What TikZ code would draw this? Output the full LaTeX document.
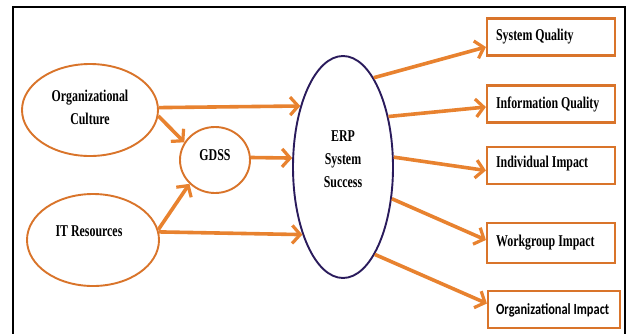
\documentclass[tikz,border=0pt]{standalone}
\usepackage{fontspec}
\usetikzlibrary{arrows.meta,shapes.geometric}
\newfontfamily\lblserif{Liberation Serif}[FakeStretch=0.72]
\newfontfamily\lblsans{Carlito}[FakeStretch=0.8]
\definecolor{rustorange}{HTML}{D9742A}
\definecolor{arroworange}{HTML}{E8822F}
\definecolor{erpnavy}{HTML}{2A1B5C}
\tikzset{
  lbl/.style={font={\lblserif\bfseries\fontsize{16.5}{23}\selectfont}, align=center, inner sep=0pt},
  boxlbl/.style={font={\lblserif\bfseries\fontsize{16.5}{18}\selectfont}, anchor=west, inner sep=0pt},
  oval/.style={ellipse, draw=rustorange, line width=1.9pt, fill=white, inner sep=0pt},
  outbox/.style={rectangle, draw=rustorange, line width=2.2pt, fill=white, minimum width=128pt,
    minimum height=37pt},
  flow/.style={draw=arroworange, line width=3.6pt, -{Straight Barb[length=8pt,width=18pt,line width=3.2pt]}}
}
\begin{document}
\begin{tikzpicture}[x=1pt,y=-1pt]
\useasboundingbox (0,0) rectangle (629,333);
\fill[white] (0,0) rectangle (629,333);
% frame
\draw[black, line width=2pt] (13,345) -- (13,7) -- (625,7) -- (625,345);

% antecedents
\node[oval, minimum width=136pt, minimum height=92pt] (oc) at (90,110) {};
\node[lbl] (octxt) at (90,107) {Organizational\\Culture};
\node[oval, minimum width=132pt, minimum height=92pt] (it) at (93,240) {};
\node[lbl] (ittxt) at (89,231) {IT Resources};
\node[oval, minimum width=70pt, minimum height=66pt] (gdss) at (215,160) {};
\node[lbl] (gdsstxt) at (215,155) {GDSS};

% central construct
\node[ellipse, draw=erpnavy, line width=1.9pt, fill=white, minimum width=100pt, minimum height=222pt, inner sep=0pt] (erp) at (343,167) {};
\node[lbl] (erptxt) at (343,159) {ERP\\System\\Success};

% outcome boxes with left-aligned captions
\node[outbox] (sq) at (551,37) {};
\node[boxlbl] (sqtxt) at ([xshift=10pt]sq.west) {System Quality};
\node[outbox] (iq) at (551,104) {};
\node[boxlbl] (iqtxt) at ([xshift=10pt]iq.west) {Information Quality};
\node[outbox] (ii) at (551,165.5) {};
\node[boxlbl] (iitxt) at ([xshift=10pt,yshift=2pt]ii.west) {Individual Impact};
\node[outbox, minimum height=40pt] (wg) at (551,243) {};
\node[boxlbl] (wgtxt) at ([xshift=10pt]wg.west) {Workgroup Impact};
\node[outbox, minimum width=132pt] (oi) at (554,309.5) {};
\node[boxlbl, font={\lblsans\bfseries\fontsize{15.5}{18}\selectfont}] (oitxt) at ([xshift=9pt,yshift=-1pt]oi.west) {Organizational Impact};

% connectors into ERP system success
\draw[flow] (oc.2) -- (erp.125);
\draw[flow] (oc.-5) -- (gdss.150);
\draw[flow] (gdss.4) -- (erp.170);
\draw[flow] (it.9) -- (gdss.223);
\draw[flow] (it.7) -- (erp.-121);

% connectors to outcomes
\draw[flow] (erp.71.6) -- ([yshift=-10pt]sq.west);
\draw[flow] (erp.48) -- ([yshift=-3pt]iq.west);
\draw[flow] (erp.11.5) -- ([yshift=-5pt]ii.west);
\draw[flow] (erp.-33) -- ([yshift=3pt]wg.west);
\draw[flow] (erp.-70) -- ([yshift=6pt]oi.west);
\end{tikzpicture}
\end{document}
